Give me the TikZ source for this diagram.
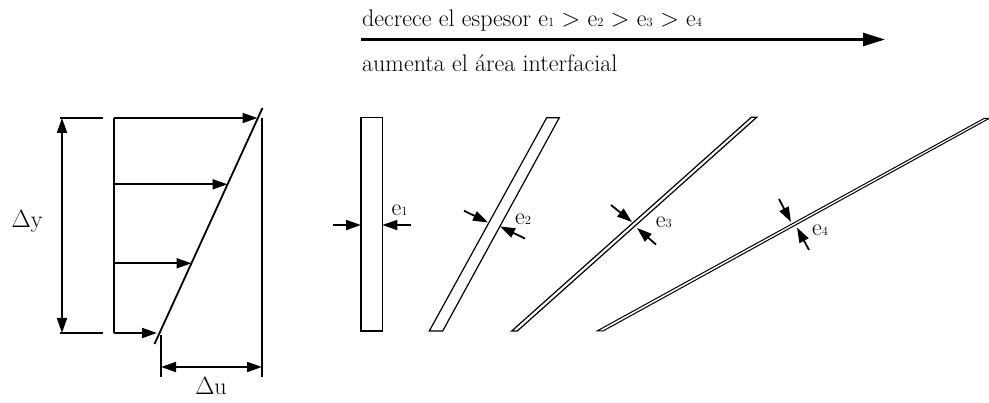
\documentclass[tikz,border=0pt]{standalone}
\usetikzlibrary{arrows.meta}
\newcommand{\esub}[1]{{\fontsize{12.5}{12.5}\selectfont #1}}
\begin{document}
\begin{tikzpicture}[x=1pt,y=-1pt,
  lbl/.style={inner sep=0pt, font=\fontsize{24}{28}\selectfont},
  plain/.style={line width=1.8pt},
  arr/.style={-{Triangle[length=15pt,width=10pt]}, line width=1.8pt},
  darr/.style={{Triangle[length=15pt,width=10pt]}-{Triangle[length=15pt,width=10pt]}, line width=1.8pt},
  bigarr/.style={-{Triangle[length=22pt,width=13pt]}, line width=2.6pt},
  bar/.style={draw, line width=1.2pt, line join=miter}]
\useasboundingbox (0,0) rectangle (989,403);

% top arrow and texts
\coordinate (ts) at (361,39.5);
\coordinate (te) at (885,39.5);
\draw[bigarr] (ts) -- (te);
\node[lbl, anchor=base west] (t1) at (362,27) {decrece el espesor e\esub{1} $>$ e\esub{2} $>$ e\esub{3} $>$ e\esub{4}};
\node[lbl, anchor=base west] (t2) at (362,71.5) {aumenta el área interfacial};

% left velocity profile
\coordinate (dt1) at (60,118);  \coordinate (dt2) at (103,118);
\coordinate (db1) at (60,333);  \coordinate (db2) at (103,333);
\coordinate (dy1) at (62,118);  \coordinate (dy2) at (62,333);
\draw[plain] (dt1) -- (dt2);
\draw[plain] (db1) -- (db2);
\draw[darr] (dy1) -- (dy2);
\node[lbl, anchor=base] (dy) at (27,228) {$\Delta$y};

\coordinate (wt) at (114,118); \coordinate (wb) at (114,333);
\draw[plain] (wt) -- (wb);
\coordinate (w2) at (114,184.3); \coordinate (w3) at (114,263.3);
\coordinate (p1) at (257.5,118); \coordinate (p2) at (227.5,184.3);
\coordinate (p3) at (191.5,263.3); \coordinate (p4) at (157,333);
\draw[arr] (wt) -- (p1);
\draw[arr] (w2) -- (p2);
\draw[arr] (w3) -- (p3);
\draw[arr] (wb) -- (p4);
\coordinate (ia) at (154.5,344); \coordinate (ib) at (262.5,108);
\draw[plain] (ia) -- (ib);

\coordinate (rt) at (262,118); \coordinate (rb) at (262,377);
\draw[plain] (rt) -- (rb);
\coordinate (st) at (161,335); \coordinate (sb) at (161,377);
\draw[plain] (st) -- (sb);
\coordinate (du1) at (161,367); \coordinate (du2) at (262,367);
\draw[darr] (du1) -- (du2);
\node[lbl, anchor=base] (du) at (211,395) {$\Delta$u};

% bar 1
\draw[bar] (361,117.7) rectangle (382.3,331);
\coordinate (a1s) at (333,225); \coordinate (a1e) at (361,225);
\coordinate (b1s) at (411,225); \coordinate (b1e) at (382.3,225);
\draw[arr] (a1s) -- (a1e);
\draw[arr] (b1s) -- (b1e);
\node[lbl, anchor=base] (e1) at (399.5,215.5) {e\esub{1}};

% bar 2
\draw[bar] (429.3,331) -- (442.7,331) -- (559.3,117.7) -- (546.7,117.7) -- cycle;
\coordinate (a2s) at (464,210.7); \coordinate (a2e) at (488,222.5);
\coordinate (b2s) at (525,238.5); \coordinate (b2e) at (500,226.5);
\draw[arr] (a2s) -- (a2e);
\draw[arr] (b2s) -- (b2e);
\node[lbl, anchor=base] (e2) at (523,225) {e\esub{2}};

% bar 3
\draw[bar] (511.7,331) -- (517.3,331) -- (756.7,117.3) -- (751.3,117.3) -- cycle;
\coordinate (a3s) at (611,205); \coordinate (a3e) at (632,222);
\coordinate (b3s) at (656,244.5); \coordinate (b3e) at (637,228);
\draw[arr] (a3s) -- (a3e);
\draw[arr] (b3s) -- (b3e);
\node[lbl, anchor=base] (e3) at (663.7,227.3) {e\esub{3}};

% bar 4
\draw[bar, line width=1pt] (597,331) -- (603,331) -- (989,118.5) -- (984,118.5) -- cycle;
\coordinate (a4s) at (779,199); \coordinate (a4e) at (791,222);
\coordinate (b4s) at (809,250); \coordinate (b4e) at (797,227.5);
\draw[arr] (a4s) -- (a4e);
\draw[arr] (b4s) -- (b4e);
\node[lbl, anchor=base] (e4) at (820,235.5) {e\esub{4}};
\end{tikzpicture}
\end{document}
